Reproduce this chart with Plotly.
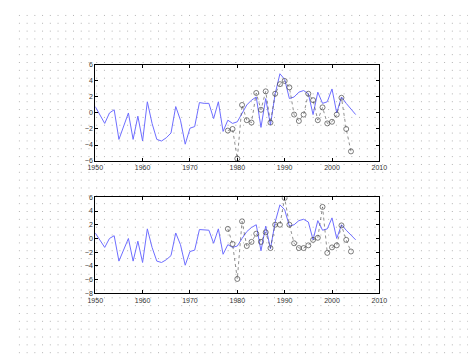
import plotly.graph_objects as go

years_blue = list(range(1950, 2006))
blue_vals = [0.8, -0.2, -1.3, 0.0, 0.4, -3.3, -1.7, 0.0, -3.3, -0.4,
             -3.5, 1.4, -1.3, -3.3, -3.5, -3.1, -2.5, 0.8, -0.9, -3.9,
             -1.9, -1.7, 1.3, 1.2, 1.2, -0.7, 1.4, -2.3, -0.9, -1.3,
             -1.1, 0.0, 1.0, 1.6, 2.0, -1.8, 1.8, -1.5, 2.4, 4.9,
             4.2, 1.8, 2.0, 2.6, 2.8, 2.4, -0.2, 2.6, 1.2, 1.4,
             3.0, 0.0, 2.0, 1.2, 0.5, -0.2]

years_obs = list(range(1978, 2005))
top_obs = [-2.2, -2.0, -5.7, 1.0, -0.9, -1.2, 2.5, 0.4, 2.7, -1.2,
           2.4, 3.6, 4.0, 3.2, -0.2, -1.0, -0.2, 2.4, 1.6, -0.9,
           0.7, -1.3, -1.1, -0.2, 1.9, -2.0, -4.8]
bottom_obs = [1.4, -0.8, -5.9, 2.5, -1.1, -0.5, 0.7, -0.5, 0.9, -1.4,
              2.0, 2.0, 5.9, 2.0, -0.7, -1.4, -1.4, -1.0, -0.2, 0.1,
              4.6, -2.1, -1.3, -1.0, 1.9, -0.2, -1.9]

x_ticks = [1950, 1960, 1970, 1980, 1990, 2000, 2010]
top_yticks = [-6, -4, -2, 0, 2, 4, 6]
bottom_yticks = [-8, -6, -4, -2, 0, 2, 4, 6]

W, H = 476, 357
BLUE = "rgb(110,110,255)"
GREY = "rgb(70,70,70)"

fig = go.Figure()
for xa, ya, obs in [("x", "y", top_obs), ("x2", "y2", bottom_obs)]:
    fig.add_trace(go.Scatter(x=years_blue, y=blue_vals, mode="lines",
                             line=dict(color=BLUE, width=1),
                             xaxis=xa, yaxis=ya, showlegend=False))
    fig.add_trace(go.Scatter(x=years_obs, y=obs, mode="lines+markers",
                             line=dict(color=GREY, width=0.6, dash="3px,3px"),
                             marker=dict(symbol="circle-open", size=5,
                                         color=GREY, line=dict(width=0.7)),
                             xaxis=xa, yaxis=ya, showlegend=False))

svg = ("data:image/svg+xml;utf8,<svg xmlns='http://www.w3.org/2000/svg' "
       "width='476' height='357'><defs><pattern id='p' width='8' height='8' "
       "patternUnits='userSpaceOnUse'><rect x='3' y='3' width='1' height='1' "
       "fill='%23b0b0b0'/></pattern></defs><rect width='100%25' height='100%25' "
       "fill='url(%23p)'/></svg>")

axis_common = dict(showline=True, linecolor="black", linewidth=1, mirror="allticks",
                   ticks="inside", ticklen=3, tickcolor="black", tickwidth=1,
                   showgrid=False, zeroline=False,
                   tickfont=dict(family="Liberation Sans, Arial", size=7, color="rgb(50,50,50)"))

x0, x1 = 82 / W, 376 / W
fig.update_layout(
    width=W, height=H,
    margin=dict(l=0, r=0, t=0, b=0),
    paper_bgcolor="white",
    plot_bgcolor="rgba(0,0,0,0)",
    images=[dict(source=svg, xref="paper", yref="paper", x=0, y=1,
                 sizex=1, sizey=1, xanchor="left", yanchor="top",
                 sizing="stretch", layer="below")],
    xaxis=dict(domain=[x0, x1], range=[1950, 2010], tickvals=x_ticks,
               anchor="y", **axis_common),
    yaxis=dict(domain=[1 - 152 / H, 1 - 54 / H], range=[-6, 6],
               tickvals=top_yticks, anchor="x", **axis_common),
    xaxis2=dict(domain=[x0, x1], range=[1950, 2010], tickvals=x_ticks,
                anchor="y2", **axis_common),
    yaxis2=dict(domain=[1 - 287 / H, 1 - 189 / H], range=[-8, 6],
                tickvals=bottom_yticks, anchor="x2", **axis_common),
)

fig.write_html("out.html")
